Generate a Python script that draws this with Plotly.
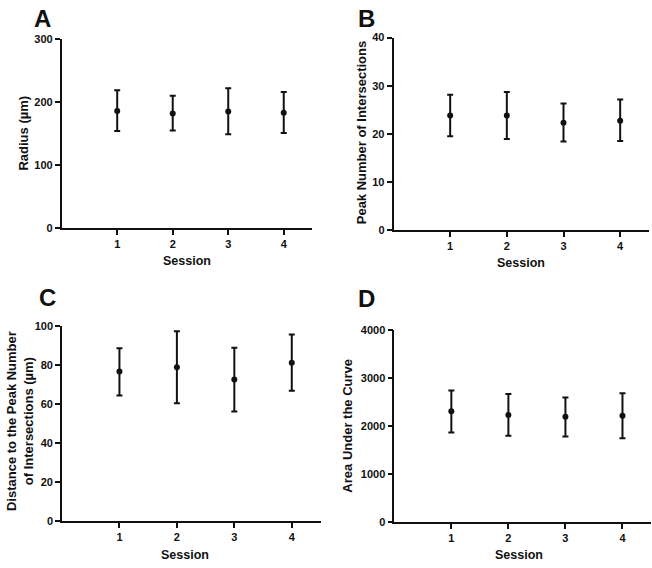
import plotly.graph_objects as go

sessions = [1, 2, 3, 4]

radius_mean = [186, 182, 185, 183]
radius_upper = [219, 210, 222, 216]
radius_lower = [154, 155, 149, 151]

peak_mean = [23.8, 23.8, 22.3, 22.7]
peak_upper = [28.1, 28.7, 26.3, 27.1]
peak_lower = [19.5, 18.9, 18.4, 18.5]

dist_mean = [76.6, 78.8, 72.5, 81.1]
dist_upper = [88.5, 97.2, 88.8, 95.5]
dist_lower = [64.3, 60.4, 56.1, 66.8]

auc_mean = [2305, 2230, 2190, 2210]
auc_upper = [2740, 2667, 2592, 2680]
auc_lower = [1864, 1796, 1782, 1741]

panels = [
    dict(letter="A", mean=radius_mean, up=radius_upper, lo=radius_lower, ymax=300, dtick=100,
         ytitle="Radius (µm)"),
    dict(letter="B", mean=peak_mean, up=peak_upper, lo=peak_lower, ymax=40, dtick=10,
         ytitle="Peak Number of Intersections"),
    dict(letter="C", mean=dist_mean, up=dist_upper, lo=dist_lower, ymax=100, dtick=20,
         ytitle="Distance to the Peak Number<br>of Intersections (µm)"),
    dict(letter="D", mean=auc_mean, up=auc_upper, lo=auc_lower, ymax=4000, dtick=1000,
         ytitle="Area Under the Curve"),
]

W, H = 652, 568
# plot areas in pixels (x0, x1, ytop, ybottom)
boxes = [
    (61.7, 311.5, 34.0, 226.7),
    (393.5, 648.5, 32.3, 228.7),
    (62.0, 320.5, 326.7, 526.3),
    (394.3, 651.0, 331.0, 527.0),
]
letter_pos = [(42, 13), (366, 13), (47, 298), (366, 299)]
session_pos = [(186.7, 260), (521, 263), (185, 560.5), (518.7, 560.5)]
ytitle_pos = [(23.3, 130), (361, 129), (20, 424), (347.7, 429)]

FONT = "Liberation Sans, Arial, sans-serif"
BLACK = "#111111"

fig = go.Figure()
annotations = []
for i, (p, b) in enumerate(zip(panels, boxes)):
    n = i + 1
    xa = "x" if n == 1 else f"x{n}"
    ya = "y" if n == 1 else f"y{n}"
    err_plus = [u - m for u, m in zip(p["up"], p["mean"])]
    err_minus = [m - l for m, l in zip(p["mean"], p["lo"])]
    fig.add_trace(go.Scatter(
        x=sessions, y=p["mean"], mode="markers", xaxis=xa, yaxis=ya,
        marker=dict(color=BLACK, size=6),
        error_y=dict(type="data", symmetric=False, array=err_plus, arrayminus=err_minus,
                     color=BLACK, thickness=2, width=3),
        showlegend=False, cliponaxis=False,
    ))
    x0, x1, yt, yb = b
    common = dict(showline=True, linecolor=BLACK, linewidth=1.6, ticks="outside",
                  ticklen=5, tickwidth=1.5, tickcolor=BLACK, showgrid=False, zeroline=False,
                  tickfont=dict(family=FONT, size=11, color=BLACK, weight="bold"))
    fig.update_layout(**{
        ("xaxis" if n == 1 else f"xaxis{n}"): dict(
            domain=[x0 / W, x1 / W], anchor=ya, range=[0, 4.5],
            tickvals=sessions, **common),
        ("yaxis" if n == 1 else f"yaxis{n}"): dict(
            domain=[1 - yb / H, 1 - yt / H], anchor=xa, range=[0, p["ymax"]],
            dtick=p["dtick"], tick0=0, **common),
    })
    lx, ly = letter_pos[i]
    annotations.append(dict(text=p["letter"], x=lx / W, y=1 - ly / H, xref="paper", yref="paper",
                            showarrow=False, xanchor="center", yanchor="middle",
                            font=dict(family=FONT, size=24, color=BLACK, weight="bold")))
    sx, sy = session_pos[i]
    annotations.append(dict(text="Session", x=sx / W, y=1 - sy / H, xref="paper", yref="paper",
                            showarrow=False, xanchor="center", yanchor="middle",
                            font=dict(family=FONT, size=12.5, color=BLACK, weight="bold")))
    tx, ty = ytitle_pos[i]
    annotations.append(dict(text=p["ytitle"], x=tx / W, y=1 - ty / H, xref="paper", yref="paper",
                            showarrow=False, xanchor="center", yanchor="middle", textangle=-90,
                            font=dict(family=FONT, size=13, color=BLACK, weight="bold")))

fig.update_layout(
    width=W, height=H, margin=dict(l=0, r=0, t=0, b=0),
    paper_bgcolor="white", plot_bgcolor="white",
    annotations=annotations,
)

fig.write_html("out.html", config={"displayModeBar": False},
               post_script="document.body.style.margin='0px';")
